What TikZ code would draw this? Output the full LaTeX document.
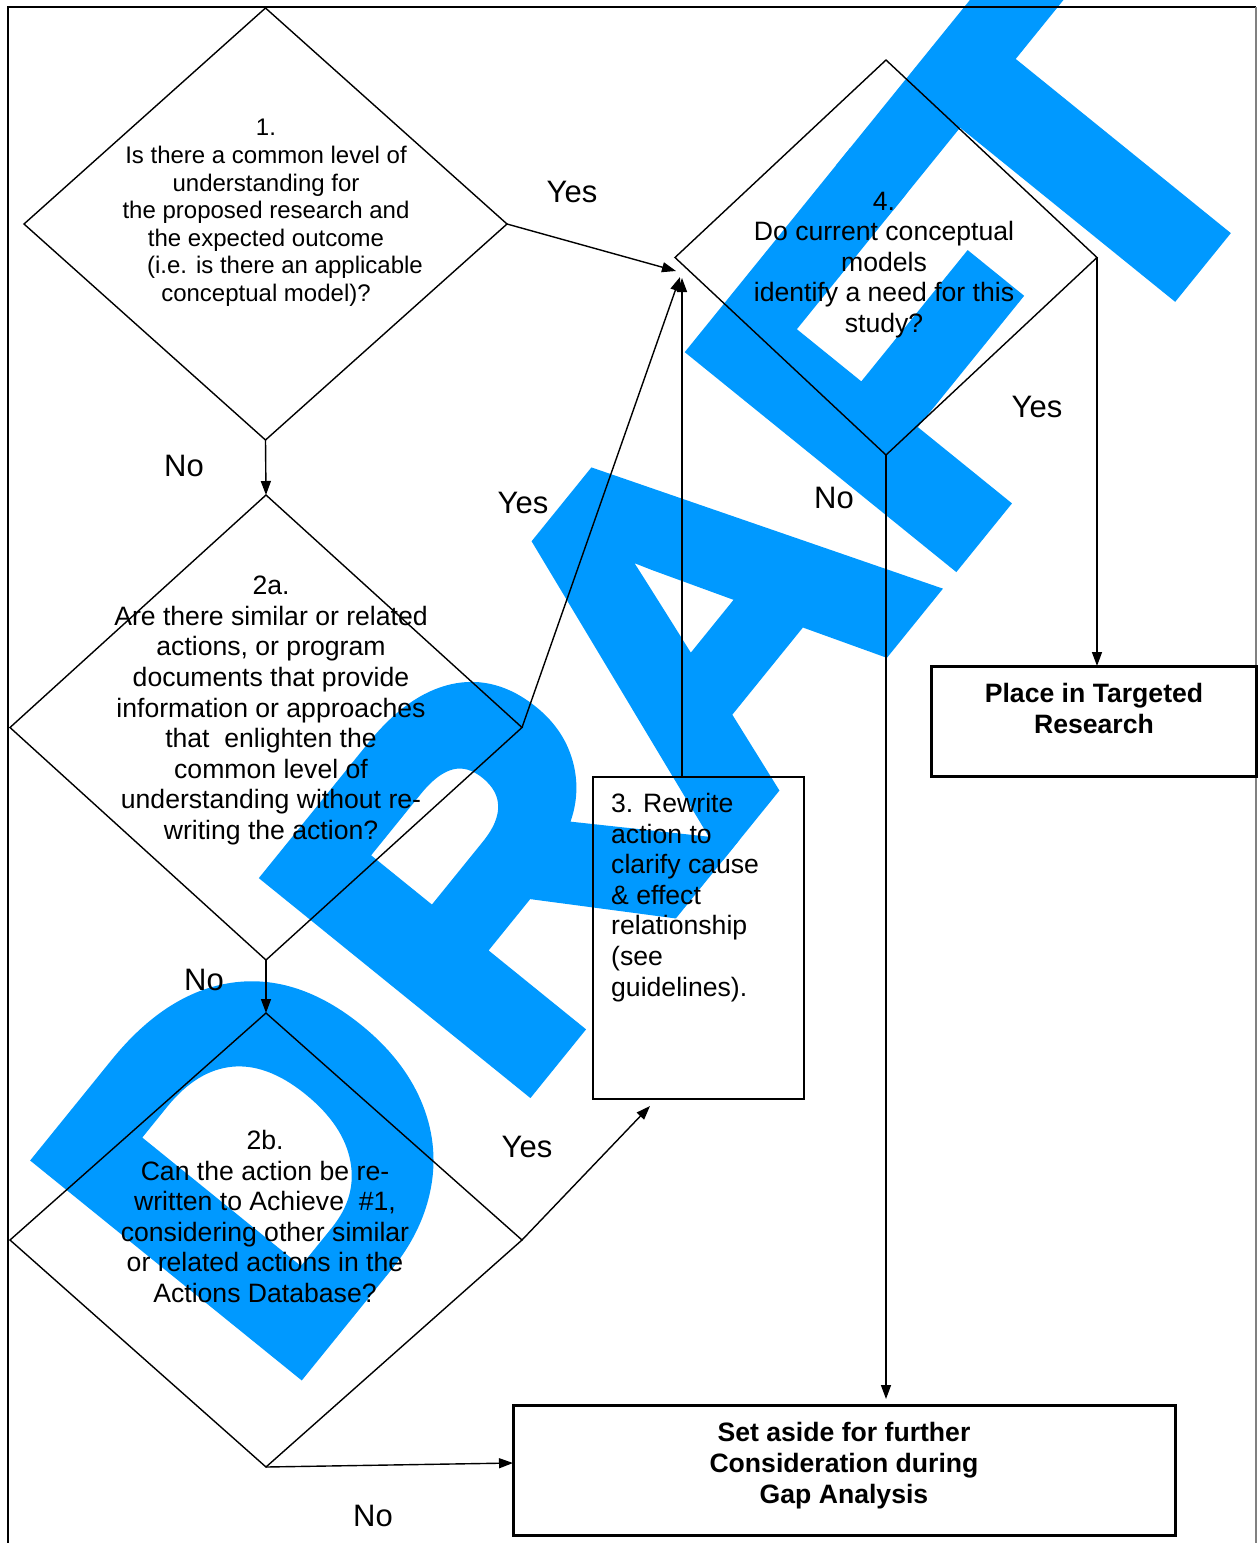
\documentclass[tikz,border=0pt]{standalone}
\usepackage{fontspec}
\setmainfont{Liberation Sans}
\newfontfamily\wmfont{Liberation Sans}[BoldFont={Liberation Sans Bold}, BoldFeatures={FakeBold=4}]
\usetikzlibrary{shapes.geometric,arrows.meta,calc}
\definecolor{wmblue}{RGB}{0,153,255}
\begin{document}
\begin{tikzpicture}[x=1pt,y=-1pt,
  dia/.style={diamond, draw, line width=1.4pt, inner sep=0pt, outer sep=0pt},
  txt/.style={align=center, inner sep=0pt, font=\fontsize{26.6}{30.6}\selectfont},
  lbl/.style={inner sep=0pt, font=\fontsize{31}{36}\selectfont},
  arr/.style={line width=1.4pt, -{Triangle[length=14pt,width=10pt]}},
  thinbox/.style={draw, line width=1.5pt, inner sep=0pt, outer sep=0pt},
  thickbox/.style={draw, line width=3pt, inner sep=0pt, outer sep=0pt},
  boldtxt/.style={align=center, inner sep=0pt, font=\fontsize{26.6}{31}\selectfont\bfseries}]
\useasboundingbox (0,0) rectangle (1258,1543);
% watermark
\begin{scope}
\clip (0,0) rectangle (1258,1543);
\node[rotate=51, anchor=base west, inner sep=0pt, text=wmblue,
      font=\wmfont\fontsize{480}{480}\selectfont\bfseries] (wm) at (280,1392) {D\kern17pt R\kern-17pt AF\kern-25pt T};
\end{scope}
% frame
\draw[line width=1.4pt] (8,1543) -- (8,7) -- (1256,7);
\draw[line width=1.4pt, gray] (1256,7) -- (1256,1543);
% diamonds
\node[dia, minimum width=483pt, minimum height=432pt] (d1) at (265.5,224) {};
\node[dia, minimum width=512pt, minimum height=465pt] (d2a) at (266,727.5) {};
\node[dia, minimum width=512pt, minimum height=454pt] (d2b) at (266,1240) {};
\node[dia, minimum width=422pt, minimum height=395pt] (d4) at (886,257.5) {};
% boxes
\node[thinbox, minimum width=211pt, minimum height=322pt] (b3) at (698.5,938) {};
\node[thickbox, minimum width=325pt, minimum height=110pt] (pl) at (1093.5,721) {};
\node[thickbox, minimum width=662pt, minimum height=130pt] (sa) at (844,1470) {};
% texts
\node[txt, font=\fontsize{24}{27.6}\selectfont] (t1) at (266,213) {1.\\Is there a common level of\\understanding for\\the proposed research and\\the expected outcome\\\hspace*{38pt}(i.e. is there an applicable\\conceptual model)?};
\node[txt] (t2a) at (271,710.5) {2a.\\Are there similar or related\\actions, or program\\documents that provide\\information or approaches\\that~ enlighten the\\common level of\\understanding without re-\\writing the action?};
\node[txt] (t2b) at (265,1216.5) {2b.\\Can the action be re-\\written to Achieve~ \#1,\\considering other similar\\or related actions in the\\Actions Database?};
\node[txt] (t4) at (884,265) {4.\\Do current conceptual\\models\\identify a need for this\\study?};
\node[txt, align=left, anchor=north west] (t3) at (611,793) {3. Rewrite\\action to\\clarify cause\\\& effect\\relationship\\(see\\guidelines).};
\node[boldtxt] (tp) at (1094,708.5) {Place in Targeted\\Research};
\node[boldtxt] (ts) at (844,1466) {Set aside for further\\Consideration during\\Gap Analysis};
% free arrow ends
\coordinate (ja) at (676,271);
\coordinate (jb) at (680,277);
\coordinate (jc) at (682,278);
\coordinate (j3) at (650,1106);
% connectors
\draw[arr] (d1.south) -- (d2a.north);
\draw[arr] (d2a.south) -- (d2b.north);
\draw[arr] (d1.east) -- (ja);
\draw[arr] (d2a.east) -- (jb);
\draw[arr] (b3.north -| jc) -- (jc);
\draw[arr] (d2b.east) -- (j3);
\draw[arr] (d2b.south) -- ([yshift=7pt]sa.west);
\draw[arr, shorten >=6pt] (d4.south) -- (d4.south |- sa.north);
\draw[arr] (d4.east) -- (d4.east |- pl.north);
% labels
\node[lbl] (y1) at (572,192) {Yes};
\node[lbl] (y2) at (523,503) {Yes};
\node[lbl] (y3) at (1037,407) {Yes};
\node[lbl] (y4) at (527,1147) {Yes};
\node[lbl] (n1) at (184,466) {No};
\node[lbl] (n2) at (204,980) {No};
\node[lbl] (n3) at (834,498) {No};
\node[lbl] (n4) at (373,1516) {No};
\end{tikzpicture}
\end{document}
